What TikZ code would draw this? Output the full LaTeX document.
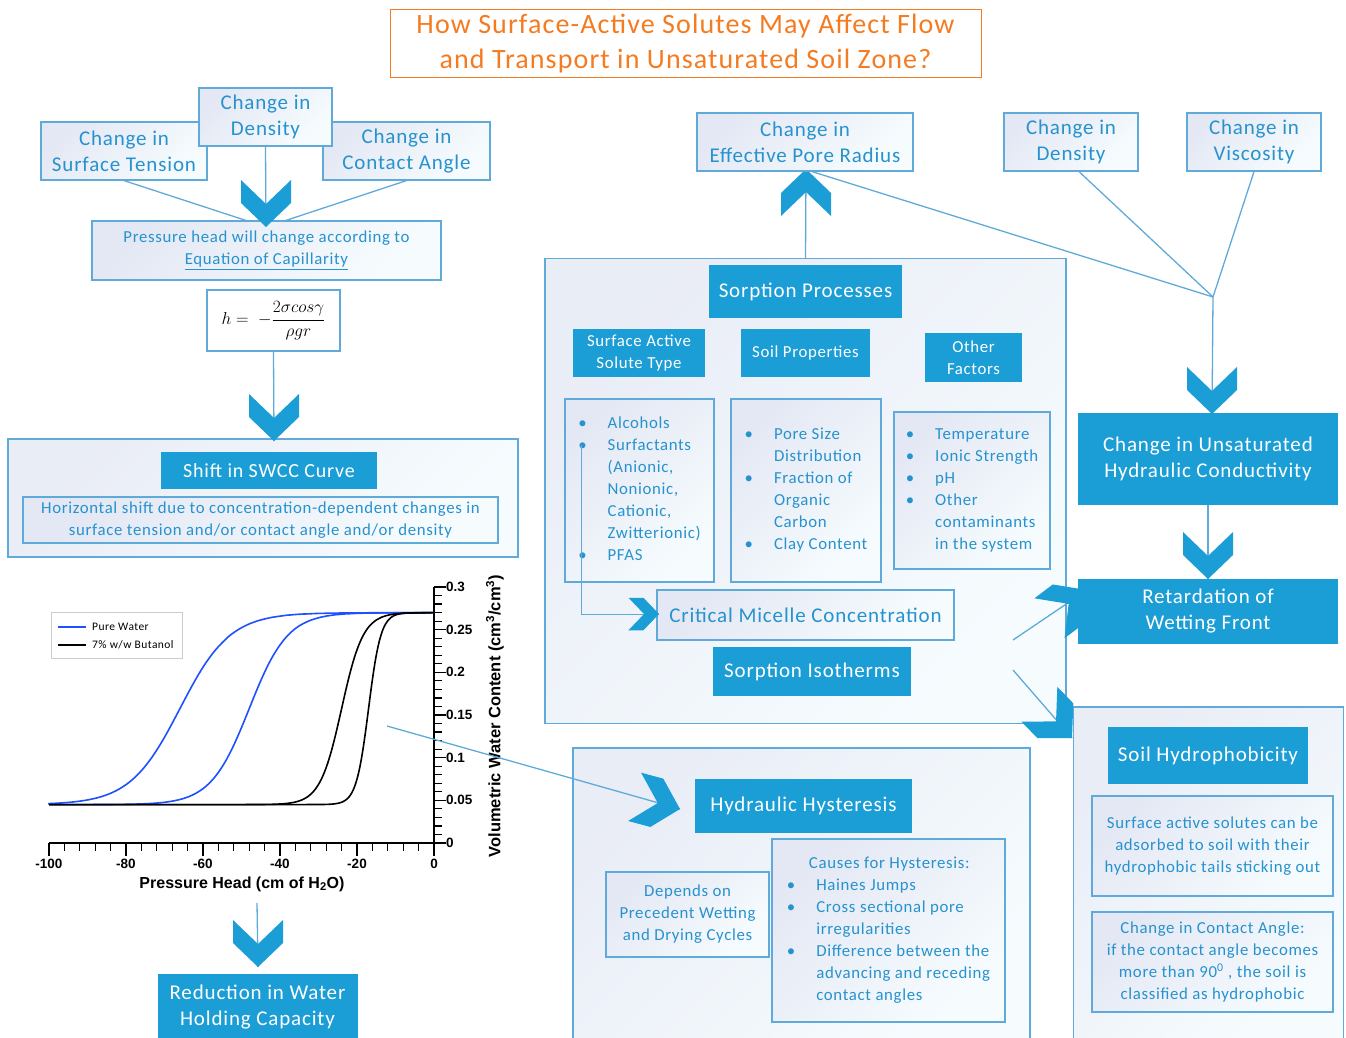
\documentclass[tikz,border=0pt]{standalone}
\usepackage{fontspec}
\setmainfont{Carlito}[LetterSpace=4.0]
\newfontfamily\plotfont{Liberation Sans}
\usepackage{amsmath}
\usepackage{xcolor}
\usetikzlibrary{positioning,calc}

\definecolor{accent}{RGB}{27,157,214}
\definecolor{edge}{RGB}{96,170,218}
\definecolor{ink}{RGB}{38,146,206}
\definecolor{boxA}{RGB}{228,232,244}
\definecolor{boxB}{RGB}{246,252,254}
\definecolor{titleorange}{RGB}{245,123,32}
\definecolor{curveblue}{RGB}{30,80,255}

\tikzset{
  chev/.pic={\fill[accent] (-25,-47) -- (0,-23) -- (25,-47) -- (25,-24) -- (0,0) -- (-25,-24) -- cycle;}
}

\begin{document}
\begin{tikzpicture}[
    x=1pt, y=-1pt,
    outbox/.style={draw=edge, line width=1.2pt, top color=boxA, bottom color=boxB, shading angle=45, text=ink, align=center, inner sep=2pt},
    fillbox/.style={fill=accent, text=white, align=center, inner sep=2pt},
    frame/.style={draw=edge, line width=1.2pt, top color=boxA!80, bottom color=boxB, shading angle=45},
    titlebox/.style={draw=titleorange, line width=1pt, fill=white, text=titleorange, align=center},
    link/.style={draw=edge, line width=1.3pt},
    axisl/.style={draw=black, line width=1.2pt},
    ticklab/.style={font=\plotfont\bfseries\fontsize{13.5}{15}\selectfont, inner sep=1pt},
    f20/.style={font=\fontsize{21}{26}\selectfont},
    f16/.style={font=\fontsize{16.8}{22}\selectfont}
]
    \useasboundingbox (0,0) rectangle (1346,1038);

    % title
    \node[titlebox, minimum width=591, minimum height=68, font=\fontsize{28}{35}\selectfont] (title) at (685.5,44)
        {\raisebox{-2pt}{How Surface-Active Solutes May Affect Flow}\\\raisebox{-2pt}{and Transport in Unsaturated Soil Zone?}};

    % large frames
    \node[frame, minimum width=510, minimum height=118] (swccframe) at (263,498) {};
    \node[frame, minimum width=521, minimum height=465] (sorpframe) at (805.5,491) {};
    \node[frame, minimum width=457, minimum height=296] (hystframe) at (801.5,896) {};

    % capillarity branch
    \coordinate (tipA) at (266,227);
    \node[outbox, f20, minimum width=166, minimum height=58] (tension) at (124,151) {Change in\\Surface Tension};
    \node[outbox, f20, minimum width=167, minimum height=58] (contact) at (406.5,151) {Change in\\Contact Angle};
    \node[outbox, f20, minimum width=133, minimum height=58] (densA) at (265.5,117) {Change in\\Density};
    \draw[link] (tension.south) -- (tipA);
    \draw[link] (contact.south) -- (tipA);
    \draw[link] (densA.south) -- (tipA);
    \node[outbox, f16, minimum width=349, minimum height=59] (press) at (266.5,250.5)
        {Pressure head will change according to\\\underline{Equation of Capillarity}};
    \pic at (tipA) {chev};
    \node[draw=edge, line width=1.2pt, fill=white, minimum width=133, minimum height=61, font=\fontsize{17}{20}\selectfont] (eqn) at (273.5,320.5)
        {$h = \;-\dfrac{2\sigma cos\gamma}{\rho g r}$};
    \coordinate (tipB) at (274,441);
    \draw[link] (eqn.south) -- (tipB);
    \pic at (tipB) {chev};
    \node[fillbox, font=\fontsize{20}{24}\selectfont, minimum width=216, minimum height=37] (shift) at (269,470.5) {Shift in SWCC Curve};
    \node[outbox, f16, minimum width=475, minimum height=46] (horiz) at (260.5,520)
        {Horizontal shift due to concentration-dependent changes in\\surface tension and/or contact angle and/or density};

    % SWCC plot
    \draw[axisl] (49,843) -- (434,843) -- (434,587);
    \foreach \i in {0,...,25} \draw[axisl] ({49+15.4*\i},843) -- ++(0,8);
    \foreach \i in {0,...,5} \draw[axisl] ({49+77*\i},843) -- ++(0,13);
    \foreach \i in {0,...,30} \draw[axisl] (434,{843-8.533*\i}) -- ++(8,0);
    \foreach \i in {0,...,6} \draw[axisl] (434,{843-42.67*\i}) -- ++(12,0);
    \foreach \v/\t in {0/-100,1/-80,2/-60,3/-40,4/-20,5/0}
        \node[ticklab] (xt\v) at ({49+77*\v},864) {\t};
    \foreach \v/\t in {0/0,1/0.05,2/0.1,3/0.15,4/0.2,5/0.25,6/0.3}
        \node[ticklab, anchor=west] (yt\v) at (445,{843-42.67*\v}) {\t};
    \foreach \hc/\hs/\col in {-66/6.5/curveblue, -48/5/curveblue, -24/2.8/black, -17/1.6/black} {
        \pgfmathsetmacro\ha{max(-100,\hc-8*\hs)}
        \pgfmathsetmacro\hb{min(0,\hc+8*\hs)}
        \draw[\col, line width=1.6pt] (49,804.6) -- plot[domain=\ha:\hb, samples=90, smooth]
            ({434+3.85*\x},{843-853.3*(0.045+0.225/(1+exp(-(\x-(\hc))/\hs)))}) -- (434,612.6);
    }
    \node[font=\plotfont\bfseries\fontsize{16}{18}\selectfont] (xlab) at (242,884) {Pressure Head (cm of H\textsubscript{2}O)};
    \node[rotate=90, font=\plotfont\bfseries\fontsize{16.5}{18}\selectfont] (ylab) at (495,716)
        {Volumetric Water Content (cm\textsuperscript{3}/cm\textsuperscript{3})};
    \node[draw=black!20, fill=white, minimum width=131, minimum height=46] (legend) at (116.5,635) {};
    \draw[curveblue, line width=1.2pt] (58,627) -- (86,627);
    \draw[black, line width=1.2pt] (58,645) -- (86,645);
    \node[anchor=west, inner sep=0, font=\fontsize{11.5}{13}\selectfont] (lgA) at (92,627) {Pure Water};
    \node[anchor=west, inner sep=0, font=\fontsize{11.5}{13}\selectfont] (lgB) at (92,645) {7\% w/w Butanol};

    % plot to reduction
    \coordinate (plotfoot) at (257,903);
    \coordinate (tipR) at (258,967);
    \draw[link] (plotfoot) -- (tipR);
    \pic at (tipR) {chev};
    \node[fillbox, f20, minimum width=200, minimum height=66] (reduce) at (257.5,1007) {Reduction in Water\\Holding Capacity};

    % sorption block
    \coordinate (tipP) at (806,169);
    \draw[link] (sorpframe.north) -- (tipP);
    \pic[rotate=180] at (tipP) {chev};
    \node[outbox, f20, minimum width=216, minimum height=58] (pore) at (805,142) {Change in\\Effective Pore Radius};
    \node[fillbox, f20, minimum width=193, minimum height=53] (sorp) at (805.5,291.5) {Sorption Processes};
    \node[fillbox, f16, minimum width=132, minimum height=48] (sast) at (639,353) {Surface Active\\Solute Type};
    \node[fillbox, f16, minimum width=129, minimum height=48] (soilp) at (805.5,353) {Soil Properties};
    \node[fillbox, f16, minimum width=97, minimum height=49] (other) at (973.5,357.5) {Other\\Factors};
    \node[outbox, f16, minimum width=149, minimum height=183] (listA) at (639.5,490.5)
        {\begin{tabular}{@{}l@{\hspace{21pt}}l@{}}
        \textbullet & Alcohols\\
        \textbullet & Surfactants\\
         & (Anionic,\\
         & Nonionic,\\
         & Cationic,\\
         & Zwitterionic)\\
        \textbullet & PFAS
        \end{tabular}};
    \node[outbox, f16, minimum width=150, minimum height=183] (listB) at (806,490.5)
        {\begin{tabular}{@{}l@{\hspace{21pt}}l@{}}
        \textbullet & Pore Size\\
         & Distribution\\
        \textbullet & Fraction of\\
         & Organic\\
         & Carbon\\
        \textbullet & Clay Content
        \end{tabular}};
    \node[outbox, f16, minimum width=156, minimum height=157] (listC) at (972,490.5)
        {\begin{tabular}{@{}l@{\hspace{21pt}}l@{}}
        \textbullet & Temperature\\
        \textbullet & Ionic Strength\\
        \textbullet & pH\\
        \textbullet & Other\\
         & contaminants\\
         & in the system
        \end{tabular}};
    \node[outbox, f20, minimum width=297, minimum height=50] (cmc) at (805.5,615) {Critical Micelle Concentration};
    \coordinate (surfb) at (581,445);
    \coordinate (tipC) at (659,614);
    \draw[link, line width=1pt] (surfb) |- (tipC);
    \pic[rotate=90, scale=0.65] at (tipC) {chev};
    \node[fillbox, f20, minimum width=198, minimum height=49] (iso) at (812,671.5) {Sorption Isotherms};

    % conductivity branch
    \node[outbox, f20, minimum width=134, minimum height=58] (densB) at (1071,142) {Change in\\Density};
    \node[outbox, f20, minimum width=134, minimum height=58] (visc) at (1254,142) {Change in\\Viscosity};
    \coordinate (jn) at (1213,297);
    \coordinate (tipU) at (1212,414);
    \draw[link] ([xshift=7]pore.south) -- (jn);
    \draw[link] ([xshift=8]densB.south) -- (jn);
    \draw[link] (visc.south) -- (jn);
    \draw[link] (jn) -- (tipU);
    \node[fillbox, f20, minimum width=260, minimum height=92] (unsat) at (1208,459) {Change in Unsaturated\\Hydraulic Conductivity};
    \pic at (tipU) {chev};
    \coordinate (tipW) at (1208,579);
    \draw[link] (unsat.south) -- (tipW);
    \node[fillbox, f20, minimum width=260, minimum height=65] (retard) at (1208,611.5) {Retardation of\\Wetting Front};
    \pic at (tipW) {chev};

    % arrows leaving the sorption block
    \coordinate (sA) at (1013,640);
    \coordinate (tipS) at (1087,590);
    \draw[link] (sA) -- (tipS);
    \pic[rotate=127] at (tipS) {chev};
    \coordinate (sB) at (1013,670);
    \coordinate (tipT) at (1072,738);
    \draw[link] (sB) -- (tipT);
    \pic[rotate=44] at (tipT) {chev};

    % hydrophobicity block
    \node[frame, minimum width=270, minimum height=336] (hydframe) at (1208.5,875) {};
    \node[fillbox, f20, minimum width=200, minimum height=57] (hydro) at (1208,755.5) {Soil Hydrophobicity};
    \node[outbox, f16, minimum width=241, minimum height=100] (hydA) at (1212.5,846)
        {Surface active solutes can be\\adsorbed to soil with their\\hydrophobic tails sticking out};
    \node[outbox, f16, minimum width=241, minimum height=100] (hydB) at (1212.5,962)
        {Change in Contact Angle:\\if the contact angle becomes\\more than 90\textsuperscript{0} , the soil is\\classified as hydrophobic};

    % hysteresis block
    \coordinate (plotpt) at (387,726);
    \coordinate (tipH) at (680,809);
    \draw[link] (plotpt) -- (tipH);
    \pic[rotate=75] at (tipH) {chev};
    \node[fillbox, f20, minimum width=217, minimum height=54] (hyst) at (803.5,806) {Hydraulic Hysteresis};
    \node[outbox, f16, minimum width=163, minimum height=85] (depends) at (687.5,914.5)
        {Depends on\\Precedent Wetting\\and Drying Cycles};
    \node[outbox, f16, minimum width=233, minimum height=183] (causes) at (888.5,930.5)
        {\begin{tabular}{@{}l@{\hspace{21pt}}l@{}}
        \multicolumn{2}{@{\hspace{22pt}}l@{}}{Causes for Hysteresis:}\\
        \textbullet & Haines Jumps\\
        \textbullet & Cross sectional pore\\
         & irregularities\\
        \textbullet & Difference between the\\
         & advancing and receding\\
         & contact angles
        \end{tabular}};
\end{tikzpicture}
\end{document}
